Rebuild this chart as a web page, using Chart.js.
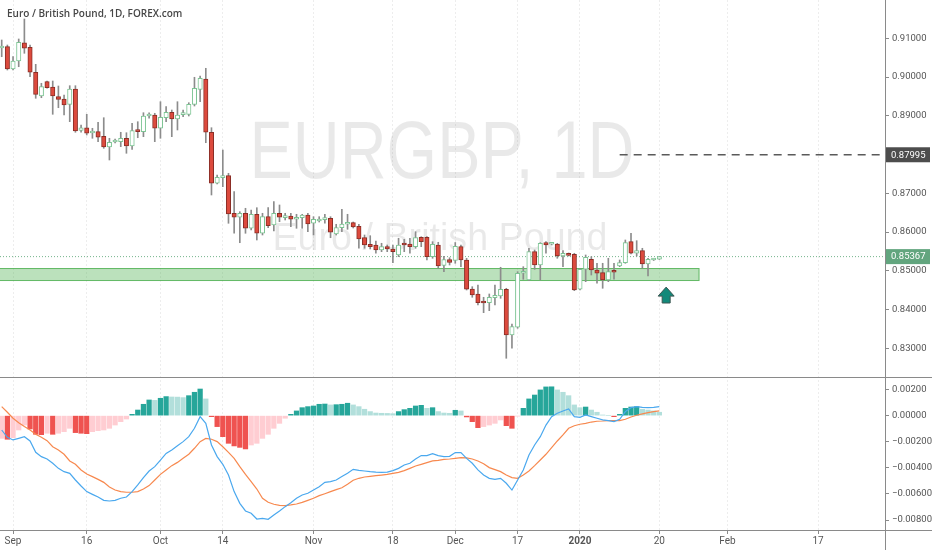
<!DOCTYPE html>
<html>
<head>
<meta charset="utf-8">
<title>EURGBP 1D</title>
<script src="https://cdn.jsdelivr.net/npm/chart.js@4.4.1/dist/chart.umd.min.js"></script>
<style>
  html, body { margin: 0; padding: 0; background: #fff; }
  #wrap { width: 932px; height: 550px; position: relative; }
</style>
</head>
<body>
<div id="wrap"><canvas id="grafico"></canvas></div>
<script>
// Velas diarias EUR/GBP (sep 2019 - ene 2020), una por sesion
const opens = [0.90750, 0.90783, 0.90208, 0.90414, 0.90886, 0.90768, 0.90123, 0.89511, 0.89880, 0.89743,
  0.89493, 0.89434, 0.89297, 0.89692, 0.88626, 0.88693, 0.88557, 0.88590, 0.88471, 0.88195,
  0.88324, 0.88332, 0.88420, 0.88221, 0.88634, 0.88590, 0.88995, 0.89021, 0.88678, 0.88951,
  0.89091, 0.88918, 0.89029, 0.89039, 0.89297, 0.89684, 0.89950, 0.88575, 0.87259, 0.87403,
  0.87455, 0.86485, 0.86382, 0.86485, 0.86098, 0.86459, 0.85969, 0.86397, 0.86183, 0.86485,
  0.86371, 0.86415, 0.86330, 0.86371, 0.86441, 0.86227, 0.86286, 0.86320, 0.86356, 0.85951,
  0.86113, 0.86201, 0.86242, 0.86149, 0.85855, 0.85685, 0.85667, 0.85538, 0.85623, 0.85564,
  0.85409, 0.85711, 0.85693, 0.85623, 0.85866, 0.85866, 0.85365, 0.85667, 0.85138, 0.85288,
  0.85267, 0.85623, 0.85280, 0.84532, 0.84403, 0.84204, 0.84178, 0.84307, 0.84351, 0.84524,
  0.83345, 0.83544, 0.84937, 0.84764, 0.85494, 0.85151, 0.85726, 0.85685, 0.85693, 0.85383,
  0.85427, 0.85427, 0.84524, 0.85040, 0.85298, 0.85022, 0.84952, 0.84764, 0.84989, 0.85125,
  0.85210, 0.85752, 0.85453, 0.85520, 0.85177, 0.85280, 0.85298];
const highs = [0.90956, 0.90827, 0.90525, 0.90982, 0.91498, 0.90827, 0.90329, 0.89839, 0.89898, 0.89898,
  0.89769, 0.89537, 0.89777, 0.89777, 0.88763, 0.89039, 0.88678, 0.88833, 0.88951, 0.88420,
  0.88402, 0.88575, 0.88564, 0.88807, 0.88848, 0.89080, 0.89080, 0.89065, 0.89364, 0.89235,
  0.89150, 0.89364, 0.89150, 0.89338, 0.89994, 0.90027, 0.90226, 0.88693, 0.87473, 0.88118,
  0.87517, 0.87042, 0.86526, 0.86614, 0.86570, 0.86629, 0.86485, 0.86629, 0.86784, 0.86699,
  0.86485, 0.86485, 0.86459, 0.86459, 0.86485, 0.86397, 0.86397, 0.86459, 0.86397, 0.86201,
  0.86588, 0.86459, 0.86260, 0.86201, 0.85925, 0.85907, 0.85770, 0.85711, 0.85667, 0.85667,
  0.85840, 0.85814, 0.85840, 0.86010, 0.85881, 0.85881, 0.85752, 0.85737, 0.85375, 0.85339,
  0.85731, 0.85667, 0.85324, 0.84591, 0.84635, 0.84318, 0.84403, 0.84635, 0.85092, 0.84550,
  0.83629, 0.84978, 0.85107, 0.85582, 0.85538, 0.85726, 0.85752, 0.85719, 0.85711, 0.85520,
  0.85461, 0.85453, 0.85066, 0.85409, 0.85365, 0.85195, 0.85195, 0.85324, 0.85195, 0.85280,
  0.85796, 0.85969, 0.85778, 0.85582, 0.85324, 0.85319, 0.85370];
const lows = [0.90525, 0.90182, 0.90182, 0.90267, 0.90613, 0.90009, 0.89452, 0.89467, 0.89710, 0.89039,
  0.89209, 0.89021, 0.88848, 0.88575, 0.88575, 0.88505, 0.88420, 0.88332, 0.88162, 0.87860,
  0.88299, 0.88203, 0.88033, 0.88136, 0.88435, 0.88461, 0.88936, 0.88332, 0.88420, 0.88848,
  0.88461, 0.88634, 0.88977, 0.88995, 0.89253, 0.89364, 0.88306, 0.86957, 0.87241, 0.87171,
  0.86227, 0.85969, 0.85726, 0.85969, 0.86054, 0.85796, 0.85925, 0.86113, 0.86028, 0.86268,
  0.86312, 0.86139, 0.86098, 0.86098, 0.86010, 0.85925, 0.86260, 0.86227, 0.85855, 0.85925,
  0.86010, 0.86072, 0.86106, 0.85582, 0.85582, 0.85564, 0.85453, 0.85494, 0.85494, 0.85210,
  0.85365, 0.85494, 0.85453, 0.85582, 0.85623, 0.85280, 0.85324, 0.85066, 0.84978, 0.85151,
  0.85195, 0.85107, 0.84506, 0.84318, 0.84119, 0.83920, 0.83972, 0.84119, 0.84292, 0.82744,
  0.83002, 0.83518, 0.84782, 0.84746, 0.85040, 0.84764, 0.85453, 0.85667, 0.85324, 0.85107,
  0.85383, 0.84488, 0.84506, 0.84720, 0.84893, 0.84679, 0.84550, 0.84720, 0.84782, 0.85107,
  0.85195, 0.85435, 0.85383, 0.85066, 0.84867, 0.85267, 0.85293];
const closes = [0.90783, 0.90208, 0.90414, 0.90897, 0.90742, 0.90123, 0.89555, 0.89751, 0.89725, 0.89511,
  0.89426, 0.89279, 0.89692, 0.88608, 0.88693, 0.88549, 0.88590, 0.88446, 0.88195, 0.88317,
  0.88368, 0.88420, 0.88221, 0.88616, 0.88590, 0.88995, 0.89021, 0.88678, 0.88962, 0.89091,
  0.88918, 0.89021, 0.89047, 0.89297, 0.89710, 0.89968, 0.88575, 0.87259, 0.87414, 0.87455,
  0.86467, 0.86382, 0.86485, 0.86098, 0.86459, 0.85969, 0.86397, 0.86165, 0.86485, 0.86382,
  0.86397, 0.86330, 0.86382, 0.86441, 0.86209, 0.86330, 0.86312, 0.86338, 0.85995, 0.86113,
  0.86209, 0.86242, 0.86131, 0.85822, 0.85667, 0.85623, 0.85538, 0.85623, 0.85564, 0.85494,
  0.85667, 0.85667, 0.85623, 0.85855, 0.85752, 0.85365, 0.85685, 0.85125, 0.85288, 0.85215,
  0.85633, 0.85280, 0.84524, 0.84377, 0.84178, 0.84171, 0.84318, 0.84369, 0.84524, 0.83345,
  0.83559, 0.84937, 0.84978, 0.85494, 0.85151, 0.85711, 0.85667, 0.85701, 0.85383, 0.85453,
  0.85401, 0.84506, 0.85040, 0.85350, 0.85022, 0.84937, 0.84764, 0.84978, 0.84963, 0.85210,
  0.85726, 0.85453, 0.85520, 0.85177, 0.85298, 0.85298, 0.85367];

// MACD (12, 26, 9)
const macdLine = [-0.00110, -0.00166, -0.00186, -0.00174, -0.00161, -0.00194, -0.00281, -0.00314, -0.00332, -0.00365,
  -0.00404, -0.00429, -0.00442, -0.00493, -0.00539, -0.00582, -0.00603, -0.00623, -0.00649, -0.00654,
  -0.00649, -0.00633, -0.00623, -0.00582, -0.00531, -0.00475, -0.00424, -0.00391, -0.00340, -0.00289,
  -0.00263, -0.00230, -0.00199, -0.00161, -0.00097, -0.00008, -0.00059, -0.00225, -0.00314, -0.00373,
  -0.00455, -0.00582, -0.00672, -0.00730, -0.00748, -0.00792, -0.00787, -0.00794, -0.00761, -0.00730,
  -0.00697, -0.00667, -0.00633, -0.00608, -0.00595, -0.00570, -0.00544, -0.00511, -0.00506, -0.00493,
  -0.00467, -0.00442, -0.00411, -0.00419, -0.00424, -0.00429, -0.00432, -0.00434, -0.00432, -0.00421,
  -0.00404, -0.00378, -0.00365, -0.00332, -0.00306, -0.00306, -0.00291, -0.00306, -0.00314, -0.00312,
  -0.00283, -0.00283, -0.00327, -0.00365, -0.00416, -0.00455, -0.00480, -0.00488, -0.00480, -0.00518,
  -0.00570, -0.00493, -0.00416, -0.00301, -0.00225, -0.00161, -0.00072, -0.00008, 0.00018, 0.00036,
  0.00051, -0.00008, -0.00013, 0.00005, -0.00008, -0.00020, -0.00033, -0.00038, -0.00046, -0.00028,
  0.00031, 0.00061, 0.00069, 0.00064, 0.00061, 0.00064, 0.00069];
const signalLine = [0.00069, 0.00026, -0.00020, -0.00054, -0.00084, -0.00110, -0.00143, -0.00166, -0.00192, -0.00238,
  -0.00263, -0.00296, -0.00347, -0.00373, -0.00416, -0.00447, -0.00467, -0.00488, -0.00511, -0.00547,
  -0.00570, -0.00582, -0.00587, -0.00587, -0.00582, -0.00562, -0.00536, -0.00493, -0.00450, -0.00416,
  -0.00383, -0.00358, -0.00327, -0.00296, -0.00250, -0.00199, -0.00174, -0.00181, -0.00199, -0.00238,
  -0.00281, -0.00327, -0.00391, -0.00450, -0.00506, -0.00562, -0.00633, -0.00664, -0.00679, -0.00687,
  -0.00690, -0.00684, -0.00677, -0.00664, -0.00649, -0.00633, -0.00613, -0.00598, -0.00582, -0.00567,
  -0.00552, -0.00526, -0.00495, -0.00480, -0.00470, -0.00465, -0.00460, -0.00455, -0.00450, -0.00442,
  -0.00434, -0.00421, -0.00404, -0.00386, -0.00373, -0.00360, -0.00347, -0.00342, -0.00335, -0.00332,
  -0.00327, -0.00322, -0.00324, -0.00332, -0.00347, -0.00368, -0.00398, -0.00414, -0.00429, -0.00455,
  -0.00475, -0.00480, -0.00455, -0.00424, -0.00383, -0.00340, -0.00296, -0.00245, -0.00194, -0.00148,
  -0.00097, -0.00077, -0.00066, -0.00059, -0.00049, -0.00043, -0.00041, -0.00038, -0.00038, -0.00038,
  -0.00028, -0.00010, 0.00003, 0.00013, 0.00023, 0.00031, 0.00036];
const macdHist = [-0.00174, -0.00181, -0.00169, -0.00110, -0.00072, -0.00102, -0.00143, -0.00146, -0.00135, -0.00143,
  -0.00135, -0.00123, -0.00097, -0.00130, -0.00135, -0.00138, -0.00123, -0.00115, -0.00110, -0.00097,
  -0.00072, -0.00046, -0.00026, 0.00010, 0.00043, 0.00087, 0.00120, 0.00117, 0.00133, 0.00146,
  0.00143, 0.00142, 0.00138, 0.00153, 0.00179, 0.00204, 0.00128, -0.00008, -0.00084, -0.00161,
  -0.00212, -0.00232, -0.00243, -0.00255, -0.00225, -0.00212, -0.00174, -0.00143, -0.00097, -0.00059,
  -0.00020, 0.00010, 0.00036, 0.00061, 0.00069, 0.00074, 0.00087, 0.00089, 0.00082, 0.00084,
  0.00087, 0.00095, 0.00082, 0.00069, 0.00049, 0.00031, 0.00020, 0.00018, 0.00017, 0.00015,
  0.00031, 0.00046, 0.00056, 0.00074, 0.00079, 0.00056, 0.00061, 0.00031, 0.00020, 0.00018,
  0.00041, 0.00036, -0.00010, -0.00046, -0.00092, -0.00084, -0.00072, -0.00059, -0.00033, -0.00077,
  -0.00097, -0.00003, 0.00056, 0.00128, 0.00158, 0.00197, 0.00220, 0.00221, 0.00197, 0.00179,
  0.00153, 0.00082, 0.00061, 0.00066, 0.00043, 0.00026, 0.00005, 0.00000, -0.00008, 0.00010,
  0.00056, 0.00066, 0.00069, 0.00049, 0.00043, 0.00036, 0.00026];

// Eje de tiempo: posicion (numero de vela) y texto de cada etiqueta
const xTickIdx = [2, 15, 28, 39, 55, 69, 80, 91, 102, 116, 128, 144];
const xTickText = ["Sep", "16", "Oct", "14", "Nov", "18", "Dec", "17", "2020", "20", "Feb", "17"];
const priceTicks = [0.83, 0.84, 0.85, 0.86, 0.87, 0.88, 0.89, 0.90, 0.91];
const macdTicks = [0.002, 0, -0.002, -0.004, -0.006, -0.008];

// Dibujos del analista
const lastPrice = 0.85367;
const rayPrice = 0.87995, rayStart = 109;
const zoneTop = 0.8506, zoneBottom = 0.8475, zoneEnd = 123;
const arrowIdx = 117.2, arrowTop = 0.8458, arrowBottom = 0.8417;

const sube = i => closes[i] >= opens[i];

function colorHist(c) {
    const i = c.dataIndex;
    const v = macdHist[i];
    const prev = i > 0 ? macdHist[i - 1] : v;
    if (v >= 0) return v >= prev ? "#26a69a" : "#b2dfdb";
    return v < prev ? "#ef5350" : "#ffcdd2";
}

// sin margen extra por las etiquetas de los ejes
function sinRelleno(s) {
    s.paddingTop = 0;
    s.paddingBottom = 0;
    s.paddingLeft = 0;
    s.paddingRight = 0;
}

// texto de marca de agua ajustado a un ancho
function textoAncho(ctx, txt, cx, base, size, ancho) {
    ctx.save();
    ctx.font = size + "px 'Liberation Sans', Arial, sans-serif";
    const w = ctx.measureText(txt).width;
    ctx.translate(cx, base);
    ctx.scale(ancho / w, 1);
    ctx.textAlign = "center";
    ctx.textBaseline = "alphabetic";
    ctx.fillStyle = "rgba(0,0,0,0.085)";
    ctx.fillText(txt, 0, 0);
    ctx.restore();
}

function etiquetaPrecio(ctx, x, y, txt, fondo) {
    ctx.fillStyle = fondo;
    ctx.fillRect(x, y - 7.5, 44, 15);
    ctx.fillStyle = "#ffffff";
    ctx.font = "9.5px Roboto, sans-serif";
    ctx.textAlign = "left";
    ctx.textBaseline = "middle";
    ctx.fillText(txt, x + 5, y + 0.5);
}

const dibujos = {
    id: "dibujos",
    beforeDatasetsDraw(chart) {
        const ctx = chart.ctx;
        const xs = chart.scales.x, ys = chart.scales.y;
        textoAncho(ctx, "EURGBP, 1D", 442, 178, 82, 385);
        textoAncho(ctx, "Euro / British Pound", 440, 250, 39, 335);

        const yl = ys.getPixelForValue(lastPrice);
        ctx.save();
        ctx.strokeStyle = "rgba(80,160,110,0.8)";
        ctx.lineWidth = 1;
        ctx.setLineDash([1, 2]);
        ctx.beginPath();
        ctx.moveTo(xs.left, yl);
        ctx.lineTo(xs.right, yl);
        ctx.stroke();
        ctx.restore();

        const x1 = xs.getPixelForValue(zoneEnd);
        const yt = ys.getPixelForValue(zoneTop), yb = ys.getPixelForValue(zoneBottom);
        ctx.fillStyle = "rgba(76,175,80,0.38)";
        ctx.fillRect(xs.left, yt, x1 - xs.left, yb - yt);
        ctx.strokeStyle = "rgba(76,175,80,0.85)";
        ctx.lineWidth = 1;
        ctx.strokeRect(xs.left - 1, yt, x1 - xs.left + 1, yb - yt);
    },
    afterDraw(chart) {
        const ctx = chart.ctx;
        const xs = chart.scales.x, ys = chart.scales.y;
        ctx.save();
        // lineas de separacion de paneles y eje
        ctx.strokeStyle = "#8a8a8a";
        ctx.lineWidth = 1;
        ctx.beginPath();
        ctx.moveTo(0, Math.round(ys.bottom) + 0.5);
        ctx.lineTo(chart.width, Math.round(ys.bottom) + 0.5);
        ctx.moveTo(0, Math.round(xs.top) + 0.5);
        ctx.lineTo(chart.width, Math.round(xs.top) + 0.5);
        ctx.moveTo(Math.round(xs.right) + 0.5, 0);
        ctx.lineTo(Math.round(xs.right) + 0.5, chart.height);
        ctx.stroke();

        // linea horizontal discontinua
        const yr = ys.getPixelForValue(rayPrice);
        ctx.strokeStyle = "#5a5a5a";
        ctx.lineWidth = 1.5;
        ctx.setLineDash([8, 6]);
        ctx.beginPath();
        ctx.moveTo(xs.getPixelForValue(rayStart), yr);
        ctx.lineTo(xs.right, yr);
        ctx.stroke();
        ctx.setLineDash([]);

        etiquetaPrecio(ctx, xs.right + 1, yr, rayPrice.toFixed(5), "#4d4d4d");
        etiquetaPrecio(ctx, xs.right + 1, ys.getPixelForValue(lastPrice), lastPrice.toFixed(5), "#62a57e");

        // flecha hacia arriba
        const cx = xs.getPixelForValue(arrowIdx);
        const ty = ys.getPixelForValue(arrowTop), by = ys.getPixelForValue(arrowBottom);
        ctx.beginPath();
        ctx.moveTo(cx, ty);
        ctx.lineTo(cx + 8, ty + 9);
        ctx.lineTo(cx + 4, ty + 9);
        ctx.lineTo(cx + 4, by);
        ctx.lineTo(cx - 4, by);
        ctx.lineTo(cx - 4, ty + 9);
        ctx.lineTo(cx - 8, ty + 9);
        ctx.closePath();
        ctx.fillStyle = "#13897a";
        ctx.fill();
        ctx.strokeStyle = "#3d5752";
        ctx.lineWidth = 1;
        ctx.stroke();

        // titulo
        ctx.fillStyle = "#474747";
        ctx.font = "600 10px 'Open Sans', sans-serif";
        ctx.textAlign = "left";
        ctx.textBaseline = "middle";
        ctx.fillText("Euro / British Pound, 1D, FOREX.com", 7, 14);
        ctx.restore();
    }
};

const idx = opens.map((_, i) => i);

const ctx = document.getElementById("grafico").getContext("2d");
new Chart(ctx, {
    type: "bar",
    data: {
        datasets: [
            {
                type: "line",
                label: "MACD",
                data: idx.map(i => ({ x: i, y: macdLine[i] })),
                yAxisID: "y2",
                order: 0,
                borderColor: "#4aa8ee",
                borderWidth: 1.2,
                pointRadius: 0
            },
            {
                type: "line",
                label: "Signal",
                data: idx.map(i => ({ x: i, y: signalLine[i] })),
                yAxisID: "y2",
                order: 0,
                borderColor: "#f7894f",
                borderWidth: 1.2,
                pointRadius: 0
            },
            {
                label: "Cuerpos",
                data: idx.map(i => ({ x: i, y: [opens[i], closes[i]] })),
                yAxisID: "y",
                order: 1,
                grouped: false,
                barThickness: 4.4,
                minBarLength: 2,
                borderWidth: 1,
                borderSkipped: false,
                backgroundColor: c => sube(c.dataIndex) ? "#ffffff" : "#dc4a3d",
                borderColor: c => sube(c.dataIndex) ? "#7cc493" : "#8b2e26"
            },
            {
                label: "Mechas",
                data: idx.map(i => ({ x: i, y: [lows[i], highs[i]] })),
                yAxisID: "y",
                order: 2,
                grouped: false,
                barThickness: 1,
                backgroundColor: "#8c8c8c"
            },
            {
                label: "Histograma",
                data: idx.map(i => ({ x: i, y: macdHist[i] })),
                yAxisID: "y2",
                order: 3,
                grouped: false,
                barThickness: 4.6,
                backgroundColor: colorHist
            }
        ]
    },
    options: {
        responsive: true,
        maintainAspectRatio: false,
        animation: false,
        devicePixelRatio: 1,
        layout: { padding: 0 },
        plugins: {
            legend: { display: false },
            tooltip: { enabled: false }
        },
        scales: {
            x: {
                type: "linear",
                min: -0.3,
                max: 155.8,
                offset: false,
                afterBuildTicks: s => { s.ticks = xTickIdx.map(v => ({ value: v })); },
                afterFit: s => { s.height = 20; sinRelleno(s); },
                grid: { offset: false, color: "rgba(0,0,0,0.07)", tickColor: "#8a8a8a", tickLength: 4 },
                border: { display: false, dash: [2, 2] },
                ticks: {
                    autoSkip: false,
                    maxRotation: 0,
                    padding: 1,
                    color: "#555",
                    font: c => ({ family: "Roboto, sans-serif", size: 10, weight: xTickText[c.index] === "2020" ? "bold" : "normal" }),
                    callback: (v, i) => xTickText[i]
                }
            },
            y: {
                type: "linear",
                position: "right",
                stack: "paneles",
                stackWeight: 377,
                min: 0.82261,
                max: 0.91988,
                beginAtZero: false,
                afterBuildTicks: s => { s.ticks = priceTicks.map(v => ({ value: v })); },
                afterFit: s => { s.width = 47; sinRelleno(s); },
                grid: { drawOnChartArea: false, tickColor: "#8a8a8a", tickLength: 4 },
                border: { display: false },
                ticks: {
                    padding: 3,
                    color: "#555",
                    font: { family: "Roboto, sans-serif", size: 9.5 },
                    callback: v => v.toFixed(5)
                }
            },
            y2: {
                type: "linear",
                position: "right",
                stack: "paneles",
                stackWeight: 153,
                min: -0.00876,
                max: 0.00296,
                beginAtZero: false,
                afterBuildTicks: s => { s.ticks = macdTicks.map(v => ({ value: v })); },
                afterFit: s => { s.width = 47; sinRelleno(s); },
                grid: { drawOnChartArea: false, tickColor: "#8a8a8a", tickLength: 4 },
                border: { display: false },
                ticks: {
                    padding: 3,
                    color: "#555",
                    font: { family: "Roboto, sans-serif", size: 9.5 },
                    callback: v => (v < 0 ? "\u2212" : "") + Math.abs(v).toFixed(5)
                }
            }
        }
    },
    plugins: [dibujos]
});
</script>
</body>
</html>
